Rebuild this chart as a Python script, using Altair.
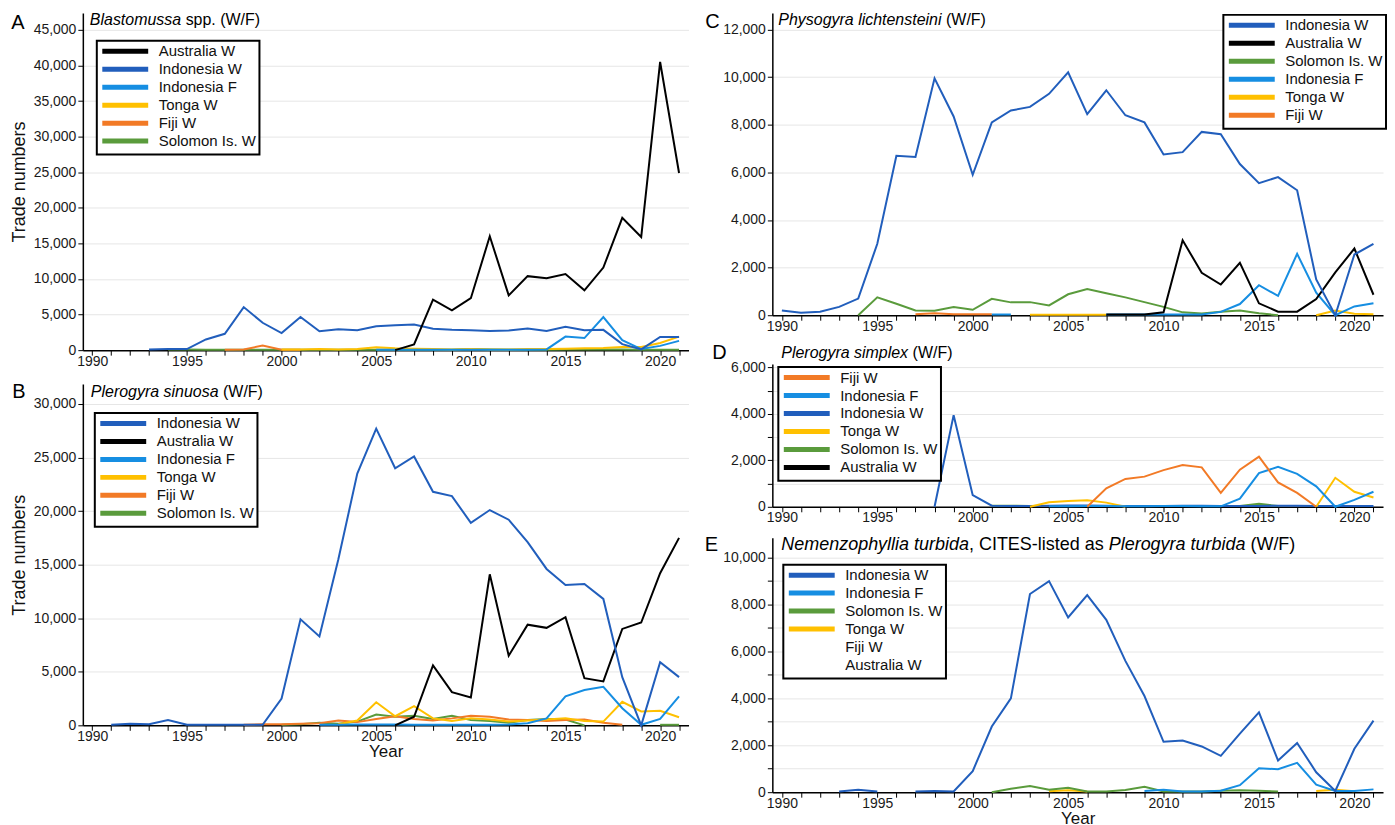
import altair as alt
import pandas as pd

YEARS = list(range(1990, 2022))
N = None

# ---------------- Panel A: Blastomussa spp.
A_AUSTRALIA_W = [N]*16 + [0, 800, 7100, 5600, 7300, 16000, 7700, 10400, 10100, 10700, 8400, 11600, 18600, 15900, 40500, 24900]
A_INDONESIA_W = [N]*3 + [100, 150, 150, 1500, 2300, 6050, 3850, 2400, 4650, 2650, 2950, 2800, 3350, 3500, 3600, 3000, 2850, 2800, 2700, 2750, 3050, 2700, 3300, 2800, 2850, 850, 100, 1850, 1850]
A_INDONESIA_F = [N]*15 + [50, 50, 60, 60, 50, 50, 50, 60, 60, 100, 1900, 1700, 4650, 1400, 150, 600, 1300]
A_TONGA_W = [N]*10 + [100, 100, 150, 100, 150, 400, 250, 200, 150, 100, 150, 100, 100, 150, 150, 200, 250, 300, 450, 450, 1000, 1900]
A_FIJI_W = [N]*7 + [50, 100, 650, 50, 50] + [N]*20
A_SOLOMON_W = [N]*4 + [100, 100, 50, 50, 50, 50, 50, 50, 50, 50, 50, 50, 50, 50, 50, 50, 150, 100, 50, 50, 50, 100, 100, 100, 100, 50, 50, 50]

# ---------------- Panel B: Plerogyra sinuosa
B_INDONESIA_W = [N] + [50, 150, 100, 500, 50, 50, 50, 50, 50, 2500, 9900, 8300, 15500, 23500, 27700, 24000, 25100, 21800, 21400, 18900, 20100, 19200, 17100, 14600, 13100, 13200, 11800, 4500, 0, 5900, 4500]
B_AUSTRALIA_W = [N]*16 + [0, 800, 5600, 3100, 2600, 14100, 6500, 9400, 9100, 10100, 4400, 4100, 9000, 9600, 14200, 17500]
B_INDONESIA_F = [N]*12 + [50, 60, 80, 80, 70, 60, 60, 50, 50, 60, 80, 200, 650, 2700, 3300, 3600, 1600, 50, 600, 2700]
B_TONGA_W = [N]*13 + [100, 450, 2150, 850, 1800, 650, 400, 650, 550, 350, 450, 550, 650, 400, 350, 2200, 1300, 1350, 750]
B_FIJI_W = [N]*8 + [50, 100, 100, 150, 200, 450, 300, 600, 850, 600, 450, 650, 900, 800, 550, 500, 400, 500, 550, 250, 50] + [N]*3
B_SOLOMON_W = [N]*10 + [50, 100, 250, 150, 350, 1000, 800, 900, 600, 900, 500, 400, 250, 500, 600, 550, 0] + [N]*3 + [50, 50]

# ---------------- Panel C: Physogyra lichtensteini
C_INDONESIA_W = [200, 100, 150, 350, 700, 3000, 6700, 6650, 9950, 8350, 5900, 8100, 8600, 8750, 9300, 10200, 8450, 9450, 8400, 8100, 6750, 6850, 7700, 7600, 6350, 5550, 5800, 5250, 1500, 0, 2550, 3000]
C_AUSTRALIA_W = [N]*17 + [30, 30, 30, 120, 3150, 1780, 1290, 2200, 500, 150, 150, 680, 1800, 2800, 860]
C_SOLOMON_W = [N]*4 + [0, 750, 480, 200, 190, 340, 230, 690, 540, 550, 410, 880, 1100, 920, 750, 550, 350, 120, 70, 150, 200, 80, 0] + [N]*5
C_INDONESIA_F = [N]*11 + [30, 30] + [N]*4 + [30, 30, 30, 30, 30, 30] + [140, 470, 1260, 810, 2580, 950, 0, 370, 500]
C_TONGA_W = [N]*13 + [20, 20, 20, 20, 20] + [N]*10 + [0, 200, 60, 40]
C_FIJI_W = [N]*7 + [40, 80, 40, 40, 40] + [N]*20

# ---------------- Panel D: Plerogyra simplex
D_FIJI_W = [N]*16 + [0, 800, 1200, 1300, 1580, 1800, 1700, 600, 1600, 2160, 1050, 600, 0] + [N]*3
D_INDONESIA_F = [N]*14 + [20, 20, 30, 30, 20, 20, 30, 30, 20, 20] + [350, 1450, 1720, 1420, 880, 0, 300, 650]
D_INDONESIA_W = [N]*8 + [0, 3950, 500] + [50, 40, 30, 50, 60, 60, 50, 40, 30, 40, 50, 50, 40, 40, 40, 50, 50, 40, 40, 40, 40]
D_TONGA_W = [N]*13 + [0, 200, 250, 280, 180, 0] + [N]*9 + [0, 1250, 650, 400]
D_SOLOMON_W = [N]*11 + [50, 50, 30] + [N]*10 + [30, 130, 30] + [N]*5
D_AUSTRALIA_W = [N]*18 + [30, 30, 30] + [N]*11

# ---------------- Panel E: Nemenzophyllia turbida
E_INDONESIA_W = [N]*3 + [30, 100, 30] + [N] + [30, 50, 30] + [900, 2800, 4000, 8450, 9000, 7450, 8400, 7350, 5600, 4100, 2150, 2200, 1950, 1550, 2500, 3400, 1350, 2100, 850, 50, 1850, 3050]
E_INDONESIA_F = [N]*19 + [50, 100, 30, 30, 60, 300, 1020, 980, 1250, 320, 50, 50, 120]
E_SOLOMON_W = [N]*11 + [0, 150, 260, 100, 190, 30, 30, 90, 230, 30, 30, 30, 60, 80, 60, 30] + [N]*5
E_TONGA_W = [N]*14 + [40, 80, 30] + [N]*11 + [50, 100, 40] + [N]

COLORS = {
    "Australia W": "#000000",
    "Indonesia W": "#215ebc",
    "Indonesia F": "#168ee2",
    "Tonga W": "#ffc000",
    "Fiji W": "#f27a26",
    "Solomon Is. W": "#5a9b3c",
}
FONT = "Liberation Sans"

# Arial / Liberation Sans advance widths (per 1000 em) for placing mixed-style titles
ADV = {" ": 278, "(": 333, ")": 333, ",": 278, ".": 278, "/": 278, "-": 333,
       "A": 667, "B": 667, "C": 722, "D": 722, "E": 667, "F": 611, "I": 278, "L": 556,
       "N": 722, "P": 667, "S": 667, "T": 611, "W": 944,
       "a": 556, "b": 556, "c": 500, "d": 556, "e": 556, "f": 278, "g": 556, "h": 556,
       "i": 222, "k": 500, "l": 222, "m": 833, "n": 556, "o": 556, "p": 556, "r": 333,
       "s": 500, "t": 278, "u": 556, "v": 500, "x": 500, "y": 500, "z": 500}


def text_width(s, size):
    return sum(ADV.get(ch, 556) for ch in s) * size / 1000.0


def rows_for(series):
    out = []
    for name, vals in series:
        assert len(vals) == len(YEARS), name
        seg, prev = 0, False
        for yr, v in zip(YEARS, vals):
            if v is None:
                if prev:
                    seg += 1
                prev = False
                continue
            out.append({"year": yr, "value": v, "series": name, "seg": f"{name}-{seg}"})
            prev = True
    return pd.DataFrame(out)


def text_chart(txt, x, y, size, style="normal", align="left"):
    return alt.Chart(pd.DataFrame({"t": [txt]})).mark_text(
        align=align, baseline="middle", fontSize=size, fontStyle=style,
        font=FONT, color="black"
    ).encode(x=alt.value(x), y=alt.value(y), text="t:N")


# wide, thin legend swatch drawn as a custom path (keeps rows compact)
SWATCH = "M-4.6,0H4.6"


def panel(letter, letter_xy, title_parts, title_xy, title_size, legend_order, series, ymax,
          width, height, grid_step, label_step, legend_xy, ytitle, xtitle):
    df = rows_for(series)
    present = {s for s, _ in series}
    rng = [COLORS[s] if s in present else "transparent" for s in legend_order]
    yvals = list(range(0, int(ymax) + 1, grid_step))
    x_axis_kw = dict(values=YEARS, format="d", labelOverlap=False, labelFlush=False,
                     labelExpr="datum.value % 5 == 0 ? datum.label : ''",
                     grid=False, tickSize=5, labelPadding=-1, titlePadding=0,
                     titleFontSize=17)
    x_axis_kw["title"] = "Year" if xtitle else None
    y_axis_kw = dict(values=yvals, labelOverlap=False,
                     labelExpr=f"datum.value % {label_step} == 0 ? format(datum.value, ',') : ''",
                     grid=True, tickSize=5, labelPadding=2, titlePadding=5, titleFontSize=18)
    y_axis_kw["title"] = "Trade numbers" if ytitle else None

    lines = alt.Chart(df).mark_line(strokeWidth=2).encode(
        x=alt.X("year:Q", scale=alt.Scale(domain=[1989.5, 2021.5], nice=False, zero=False),
                axis=alt.Axis(**x_axis_kw)),
        y=alt.Y("value:Q", scale=alt.Scale(domain=[0, ymax], nice=False),
                axis=alt.Axis(**y_axis_kw)),
        color=alt.Color("series:N",
                        scale=alt.Scale(domain=legend_order, range=rng),
                        legend=alt.Legend(title=None, orient="none",
                                          legendX=legend_xy[0], legendY=legend_xy[1],
                                          symbolType=SWATCH, symbolStrokeWidth=5,
                                          symbolSize=100, symbolOffset=18,
                                          labelFontSize=15, labelFont=FONT,
                                          labelColor="#111111", labelOffset=26,
                                          rowPadding=-3, padding=3,
                                          strokeColor="black", fillColor="white")),
        detail="seg:N",
    )
    layers = [lines, text_chart(letter, letter_xy[0], letter_xy[1], 20, align="center")]
    x0 = title_xy[0]
    for txt, ital in title_parts:
        lead = len(txt) - len(txt.lstrip(" "))
        pos = x0 + text_width(" " * lead, title_size)
        layers.append(text_chart(txt.strip(" "), pos, title_xy[1], title_size,
                                 style="italic" if ital else "normal"))
        x0 += text_width(txt, title_size)
    return alt.layer(*layers).properties(width=width, height=height)


LEG_A = ["Australia W", "Indonesia W", "Indonesia F", "Tonga W", "Fiji W", "Solomon Is. W"]
LEG_B = ["Indonesia W", "Australia W", "Indonesia F", "Tonga W", "Fiji W", "Solomon Is. W"]
LEG_C = ["Indonesia W", "Australia W", "Solomon Is. W", "Indonesia F", "Tonga W", "Fiji W"]
LEG_D = ["Fiji W", "Indonesia F", "Indonesia W", "Tonga W", "Solomon Is. W", "Australia W"]
LEG_E = ["Indonesia W", "Indonesia F", "Solomon Is. W", "Tonga W", "Fiji W", "Australia W"]

pA = panel("A", (-65, 10), [("Blastomussa", True), (" spp. (W/F)", False)], (7, 7), 16, LEG_A,
           [("Solomon Is. W", A_SOLOMON_W), ("Fiji W", A_FIJI_W), ("Tonga W", A_TONGA_W),
            ("Indonesia F", A_INDONESIA_F), ("Indonesia W", A_INDONESIA_W),
            ("Australia W", A_AUSTRALIA_W)],
           47400, 607, 338, 5000, 5000, (14, 28), True, False)
pB = panel("B", (-64, 8), [("Plerogyra sinuosa", True), (" (W/F)", False)], (8, 8), 16, LEG_B,
           [("Solomon Is. W", B_SOLOMON_W), ("Fiji W", B_FIJI_W), ("Tonga W", B_TONGA_W),
            ("Indonesia F", B_INDONESIA_F), ("Australia W", B_AUSTRALIA_W),
            ("Indonesia W", B_INDONESIA_W)],
           31860, 607, 342, 5000, 5000, (12, 29), True, True)
pC = panel("C", (-60, 9), [("Physogyra lichtensteini", True), (" (W/F)", False)], (6, 7), 16, LEG_C,
           [("Fiji W", C_FIJI_W), ("Tonga W", C_TONGA_W), ("Solomon Is. W", C_SOLOMON_W),
            ("Indonesia F", C_INDONESIA_F), ("Australia W", C_AUSTRALIA_W),
            ("Indonesia W", C_INDONESIA_W)],
           12700, 612, 303, 2000, 2000, (452, 2), False, False)
pD = panel("D", (-53, -11), [("Plerogyra simplex", True), (" (W/F)", False)], (9, -11), 16, LEG_D,
           [("Australia W", D_AUSTRALIA_W), ("Solomon Is. W", D_SOLOMON_W),
            ("Indonesia W", D_INDONESIA_W), ("Tonga W", D_TONGA_W),
            ("Indonesia F", D_INDONESIA_F), ("Fiji W", D_FIJI_W)],
           6150, 612, 143, 1000, 2000, (6, 3), False, False)
pE = panel("E", (-61, 7), [("Nemenzophyllia turbida", True), (", CITES-listed as ", False),
                           ("Plerogyra turbida", True), (" (W/F)", False)], (9, 7), 18, LEG_E,
           [("Tonga W", E_TONGA_W), ("Solomon Is. W", E_SOLOMON_W),
            ("Indonesia F", E_INDONESIA_F), ("Indonesia W", E_INDONESIA_W)],
           10850, 612, 255, 1000, 2000, (11, 27), False, True)

RES = dict(color="independent", x="independent", y="independent")
left = alt.vconcat(pA, pB, spacing=14).resolve_scale(**RES)
lower_right = alt.vconcat(pD, pE, spacing=10).resolve_scale(**RES)
right = alt.vconcat(pC, lower_right, spacing=10).resolve_scale(**RES)

chart = alt.hconcat(left, right, spacing=16).resolve_scale(**RES).properties(
    padding={"left": 2, "top": 3, "right": 0, "bottom": 0}
).configure_view(stroke=None).configure_axis(
    labelFont=FONT, labelFontSize=14, labelColor="#1a1a1a",
    titleFont=FONT, titleFontWeight="normal", titleColor="#111111",
    domainColor="#000000", domainWidth=1.5, tickColor="#000000", tickWidth=1,
    gridColor="#e6e6e6", gridWidth=1,
).configure_legend(strokeWidth=2)

chart.save("out.html", embed_options={"renderer": "svg", "actions": False})
